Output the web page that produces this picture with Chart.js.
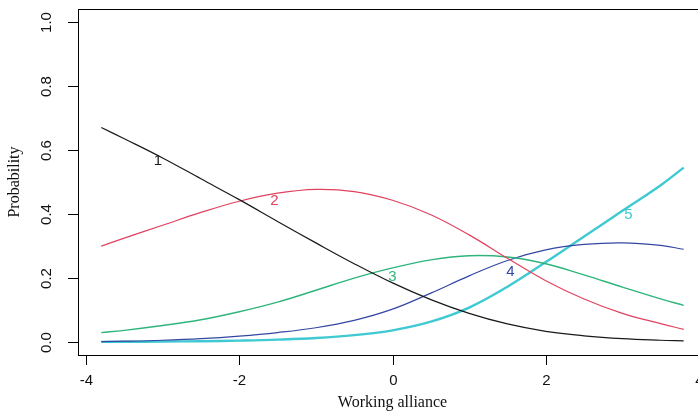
<!DOCTYPE html>
<html>
<head>
<meta charset="utf-8">
<script src="https://cdn.jsdelivr.net/npm/chart.js@4.4.1/dist/chart.umd.min.js"></script>
<style>
  html, body { margin: 0; padding: 0; background: #fff; overflow: hidden; }
  #wrap { width: 712px; height: 413px; position: relative; }
</style>
</head>
<body>
<div id="wrap"><canvas id="chart" width="712" height="413"></canvas></div>
<script>
// working alliance grid (x) and category probabilities
const xVals = [-3.8, -3.5, -3, -2.5, -2, -1.5, -1, -0.5, 0, 0.5, 1, 1.5, 2, 2.5, 3, 3.5, 3.8];
const cat1 = [0.67, 0.635, 0.575, 0.51, 0.445, 0.377, 0.31, 0.245, 0.185, 0.133, 0.09, 0.057, 0.034, 0.02, 0.011, 0.006, 0.004];
const cat2 = [0.30, 0.325, 0.365, 0.405, 0.44, 0.465, 0.477, 0.47, 0.443, 0.398, 0.335, 0.262, 0.192, 0.135, 0.09, 0.058, 0.04];
const cat3 = [0.03, 0.037, 0.052, 0.07, 0.095, 0.125, 0.162, 0.2, 0.232, 0.257, 0.27, 0.266, 0.245, 0.21, 0.172, 0.135, 0.115];
const cat4 = [0.002, 0.003, 0.006, 0.011, 0.019, 0.03, 0.045, 0.068, 0.103, 0.153, 0.207, 0.255, 0.288, 0.305, 0.31, 0.302, 0.29];
const cat5 = [0.001, 0.001, 0.002, 0.003, 0.005, 0.008, 0.013, 0.022, 0.037, 0.064, 0.108, 0.173, 0.25, 0.33, 0.41, 0.49, 0.545];

const catNames = ['1', '2', '3', '4', '5'];
const labelX = [-3.06, -1.54, 0.0, 1.54, 3.08];
const labelY = [0.565, 0.44, 0.203, 0.22, 0.397];

const xTicks = [-4, -2, 0, 2, 4];
const yTicks = [0, 0.2, 0.4, 0.6, 0.8, 1.0];

const colors = ['#1a1a1a', '#e0435f', '#2fb57c', '#3347a3', '#3fc9d3'];
const widths = [1.2, 1.2, 1.4, 1.2, 2.4];

const series = [cat1, cat2, cat3, cat4, cat5];

const datasets = series.map((s, i) => ({
    label: catNames[i],
    data: s.map((v, j) => ({ x: xVals[j], y: v })),
    borderColor: colors[i],
    borderWidth: widths[i],
    pointRadius: 0,
    tension: 0.4,
    fill: false,
}));

// R style axes, box and curve labels
const rAxes = {
    id: 'rAxes',
    afterDraw(chart) {
        const { ctx, chartArea: a, scales: { x, y } } = chart;
        ctx.save();
        ctx.strokeStyle = '#000';
        ctx.lineWidth = 1;
        ctx.strokeRect(a.left + 0.5, a.top + 0.5, a.right - a.left, a.bottom - a.top);

        ctx.fillStyle = '#111';
        ctx.font = '15px "Liberation Sans", Arial, sans-serif';
        // x axis ticks
        ctx.textAlign = 'center';
        ctx.textBaseline = 'middle';
        xTicks.forEach(t => {
            const px = Math.round(x.getPixelForValue(t)) + 0.5;
            ctx.beginPath();
            ctx.moveTo(px, a.bottom);
            ctx.lineTo(px, a.bottom + 10);
            ctx.stroke();
            ctx.fillText(String(t), px, a.bottom + 26);
        });
        // y axis ticks
        yTicks.forEach(t => {
            const py = Math.round(y.getPixelForValue(t)) + 0.5;
            ctx.beginPath();
            ctx.moveTo(a.left, py);
            ctx.lineTo(a.left - 10, py);
            ctx.stroke();
            ctx.save();
            ctx.translate(a.left - 31, py);
            ctx.rotate(-Math.PI / 2);
            ctx.fillText(t.toFixed(1), 0, 0);
            ctx.restore();
        });

        // titles
        ctx.font = '16px "Liberation Serif", "Times New Roman", serif';
        ctx.fillText('Working alliance', x.getPixelForValue(0), a.bottom + 48);
        ctx.save();
        ctx.translate(15, (a.top + a.bottom) / 2);
        ctx.rotate(-Math.PI / 2);
        ctx.fillText('Probability', 0, 0);
        ctx.restore();

        // curve numbers
        ctx.font = '15px "Liberation Sans", Arial, sans-serif';
        catNames.forEach((n, i) => {
            ctx.fillStyle = colors[i];
            ctx.fillText(n, x.getPixelForValue(labelX[i]), y.getPixelForValue(labelY[i]));
        });
        ctx.restore();
    }
};

new Chart(document.getElementById('chart'), {
    type: 'line',
    data: { datasets },
    options: {
        responsive: false,
        animation: false,
        layout: { padding: { left: 78, top: 9, right: 5, bottom: 58 } },
        plugins: { legend: { display: false }, tooltip: { enabled: false } },
        scales: {
            x: { type: 'linear', min: -4.104, max: 4.104, display: false },
            y: { type: 'linear', min: -0.04, max: 1.04, display: false },
        },
    },
    plugins: [rAxes],
});
</script>
</body>
</html>
